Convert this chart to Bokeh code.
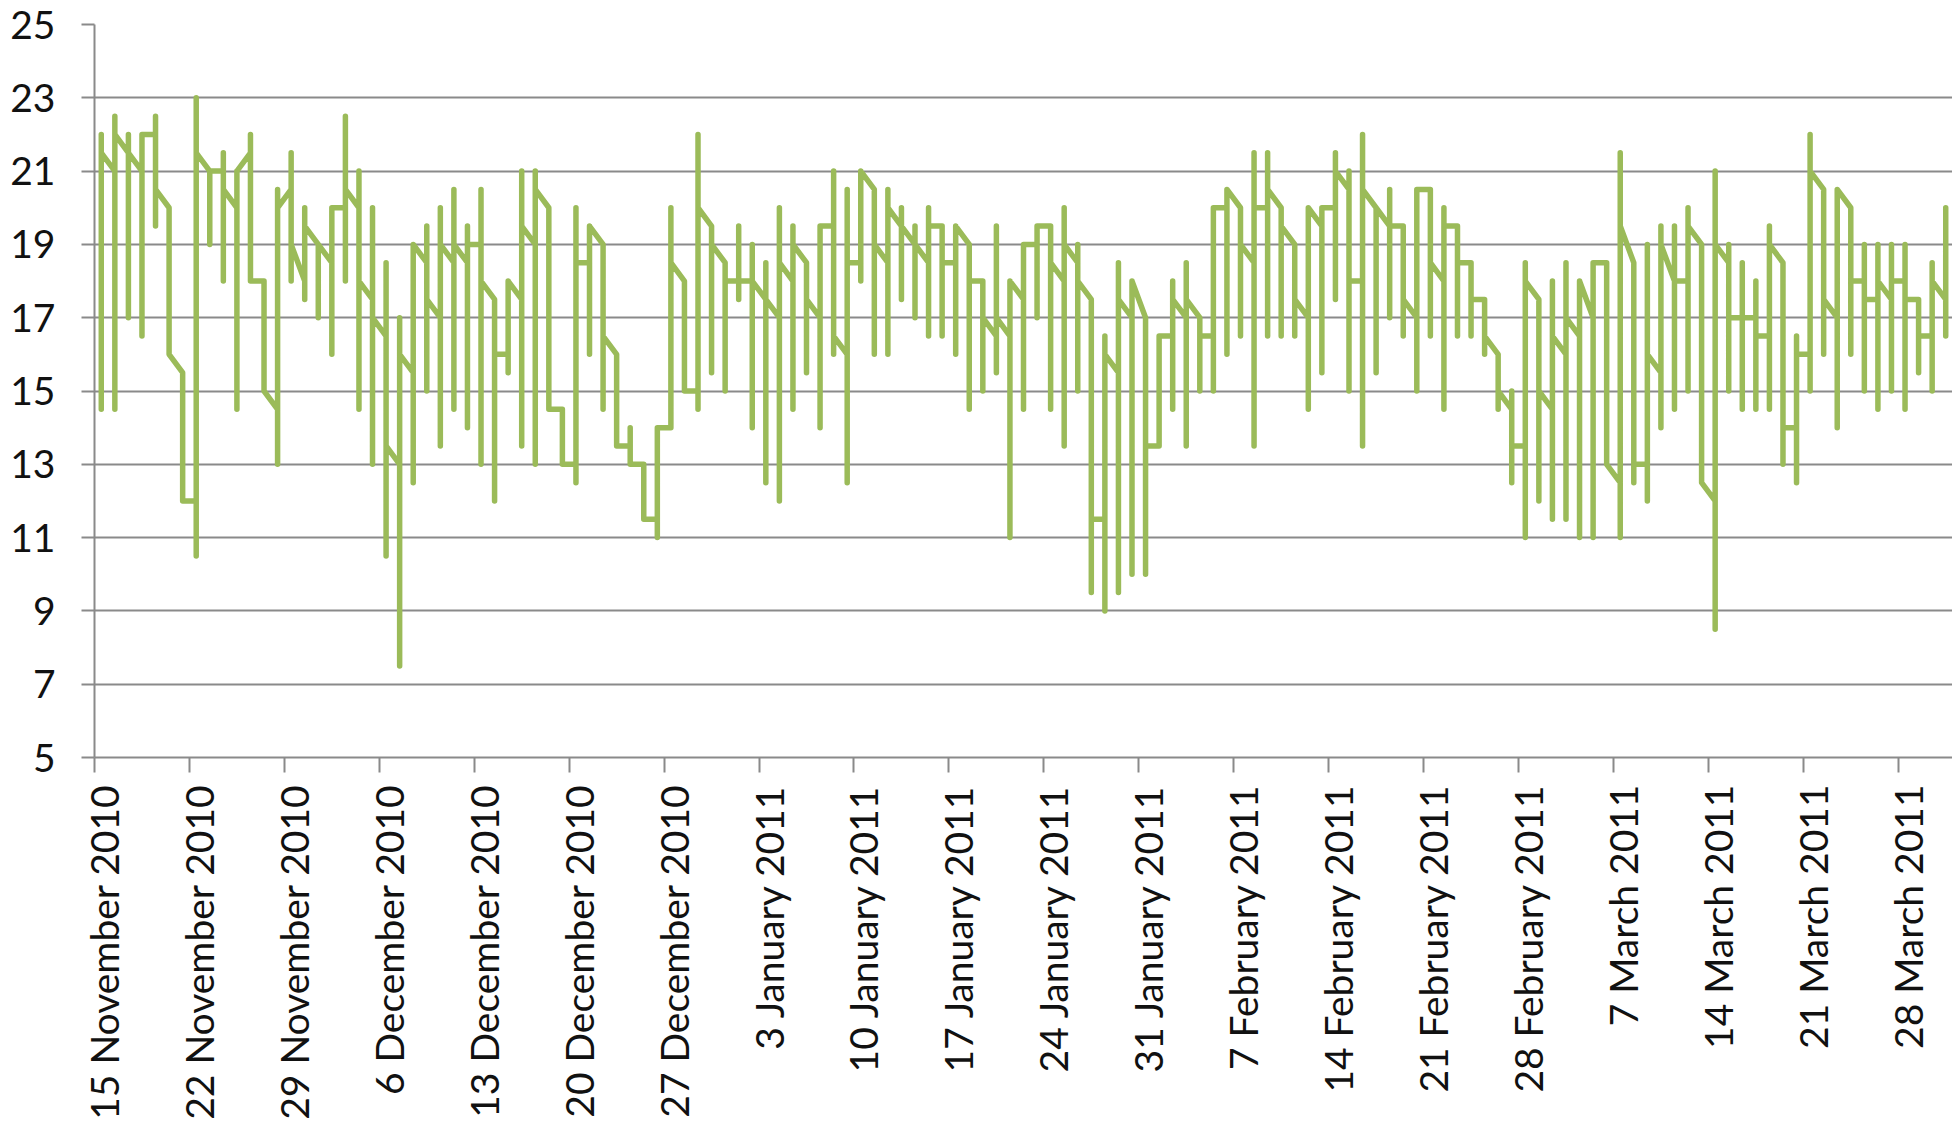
import numpy as np
import pandas as pd
from bokeh.plotting import figure
from bokeh.models import Range1d, FixedTicker
from bokeh.embed import file_html
from bokeh.resources import INLINE

# daily readings, 15 Nov 2010 - 31 Mar 2011 (first, highest, lowest, last)
day_open = [22, 21, 21.5, 21, 22, 20, 15.5, 12, 21, 21, 20, 21.5, 18, 14.5, 20.5, 18, 19, 18.5, 20, 20,
            17.5, 16.5, 13, 15.5, 18.5, 17, 18.5, 18.5, 19, 17.5, 16, 17.5, 19, 20, 14.5, 13, 18.5, 19, 16, 13.5,
            13, 11.5, 14, 18, 15, 19.5, 18.5, 18, 18, 17.5, 17, 18, 18.5, 17, 19.5, 16, 18.5, 20.5, 18.5, 19.5,
            19, 18.5, 19.5, 18.5, 19, 18, 16.5, 16.5, 17.5, 19, 19.5, 18, 18.5, 17.5, 11.5, 15.5, 17, 17, 13.5, 16.5,
            17, 17, 16.5, 20, 20, 18.5, 20, 20, 19, 17, 19.5, 20, 20.5, 18, 20, 19.5, 19.5, 17, 20.5, 18,
            19.5, 18.5, 17.5, 16, 14.5, 13.5, 17.5, 14.5, 16, 16.5, 17, 18.5, 12.5, 18.5, 13, 15.5, 18, 18, 19, 12,
            18.5, 17, 17, 16.5, 18.5, 14, 16, 20.5, 17, 20, 18, 17.5, 17.5, 18, 17.5, 16.5, 17.5]
day_high = [22, 22.5, 22, 22, 22.5, 20, 15.5, 23, 21, 21.5, 21, 22, 18, 20.5, 21.5, 20, 19, 20, 22.5, 21,
            20, 18.5, 17, 19, 19.5, 20, 20.5, 19.5, 20.5, 17.5, 18, 21, 21, 20, 14.5, 20, 19.5, 19, 16, 14,
            13, 14, 20, 18, 22, 19.5, 18.5, 19.5, 19, 18.5, 20, 19.5, 18.5, 19.5, 21, 20.5, 21, 20.5, 20.5, 20,
            19.5, 20, 19.5, 19.5, 19, 18, 19.5, 18, 19, 19.5, 19.5, 20, 19, 17.5, 16.5, 18.5, 18, 17, 16.5, 18,
            18.5, 17, 20, 20.5, 20, 21.5, 21.5, 20, 19, 20, 20, 21.5, 21, 22, 20, 20.5, 19.5, 20.5, 20.5, 20,
            19.5, 18.5, 17.5, 16, 15, 18.5, 17.5, 18, 18.5, 18, 18.5, 18.5, 21.5, 18.5, 19, 19.5, 19.5, 20, 19, 21,
            19, 18.5, 18, 19.5, 18.5, 16.5, 22, 20.5, 20.5, 20, 19, 19, 19, 19, 17.5, 18.5, 20]
day_low = [14.5, 14.5, 17, 16.5, 19.5, 16, 12, 10.5, 19, 18, 14.5, 18, 15, 13, 18, 17.5, 17, 16, 18, 14.5,
           13, 10.5, 7.5, 12.5, 15, 13.5, 14.5, 14, 13, 12, 15.5, 13.5, 13, 14.5, 13, 12.5, 16, 14.5, 13.5, 13,
           11.5, 11, 14, 15, 14.5, 15.5, 15, 17.5, 14, 12.5, 12, 14.5, 15.5, 14, 16, 12.5, 18, 16, 16, 17.5,
           17, 16.5, 16.5, 16, 14.5, 15, 15.5, 11, 14.5, 17, 14.5, 13.5, 15, 9.5, 9, 9.5, 10, 10, 13.5, 14.5,
           13.5, 15, 15, 16, 16.5, 13.5, 16.5, 16.5, 16.5, 14.5, 15.5, 17.5, 15, 13.5, 15.5, 17, 16.5, 15, 16.5, 14.5,
           16.5, 16.5, 16, 14.5, 12.5, 11, 12, 11.5, 11.5, 11, 11, 13, 11, 12.5, 12, 14, 14.5, 15, 12.5, 8.5,
           15, 14.5, 14.5, 14.5, 13, 12.5, 15, 16, 14, 16, 15, 14.5, 15, 14.5, 15.5, 15, 16.5]
day_close = [21.5, 22, 21.5, 22, 20.5, 16, 12, 21.5, 21, 20.5, 21, 18, 15, 20, 19, 19.5, 19, 20, 20.5, 18,
             17, 13.5, 16, 19, 17.5, 19, 19, 19, 18, 16, 18, 19.5, 20.5, 14.5, 13, 18.5, 19.5, 16.5, 13.5, 13,
             11.5, 14, 18.5, 15, 20, 19, 18, 18, 18, 17.5, 18.5, 19, 17.5, 19.5, 16.5, 18.5, 21, 19, 20, 19.5,
             19, 19.5, 18.5, 19.5, 18, 17, 17, 18, 19, 19.5, 18.5, 19, 18, 11.5, 16, 17.5, 18, 13.5, 16.5, 17.5,
             17.5, 16.5, 20, 20.5, 19, 20, 20.5, 19.5, 17.5, 20, 20, 21, 18, 20.5, 20, 19.5, 17.5, 20.5, 18.5, 19.5,
             18.5, 17.5, 16.5, 15, 13.5, 18, 15, 16.5, 17, 18, 18.5, 13, 19.5, 13, 16, 19, 18, 19.5, 12.5, 19,
             17, 17, 16.5, 19, 14, 16, 21, 17.5, 20.5, 18, 17.5, 18, 18, 17.5, 16.5, 18, 20]

tick_days = [0, 7, 14, 21, 28, 35, 42, 49, 56, 63, 70, 77, 84, 91, 98, 105, 112, 119, 126, 133]
tick_labels = ["15 November 2010", "22 November 2010", "29 November 2010", "6 December 2010",
               "13 December 2010", "20 December 2010", "27 December 2010", "3 January 2011",
               "10 January 2011", "17 January 2011", "24 January 2011", "31 January 2011",
               "7 February 2011", "14 February 2011", "21 February 2011", "28 February 2011",
               "7 March 2011", "14 March 2011", "21 March 2011", "28 March 2011"]
y_ticks = [5, 7, 9, 11, 13, 15, 17, 19, 21, 23, 25]

dates = pd.date_range("2010-11-15", periods=len(day_open), freq="D")
xday = (dates - dates[0]).days.to_numpy() + 0.5

xs = np.repeat(xday, 4)
ys = np.column_stack([day_open, day_high, day_low, day_close]).ravel()

FONT = "Lato"
FSIZE = "39px"
GRID = "#8a8a8a"
TXT = "#111111"
LABEL_SHIFT = 0.7  # labels sit slightly right of their tick, as in the original

p = figure(width=1952, height=1124, output_backend="svg", toolbar_location=None,
           x_range=Range1d(0, len(day_open)), y_range=Range1d(5, 25),
           min_border_left=94, min_border_top=24, min_border_right=0, min_border_bottom=367)
p.outline_line_color = None
p.background_fill_color = "white"
p.border_fill_color = "white"

p.line(xs, ys, line_color="#9BBB59", line_width=5.5, line_join="round", line_cap="round")

p.xgrid.visible = False
p.ygrid.grid_line_color = GRID
p.ygrid.grid_line_width = 2
p.ygrid.ticker = FixedTicker(ticks=y_ticks)

ya = p.yaxis[0]
ya.ticker = FixedTicker(ticks=y_ticks)
ya.axis_line_color = GRID
ya.axis_line_width = 2
ya.major_tick_line_color = GRID
ya.major_tick_line_width = 2
ya.major_tick_out = 13
ya.major_tick_in = 0
ya.minor_tick_line_color = None
ya.major_label_text_font = FONT
ya.major_label_text_font_size = FSIZE
ya.major_label_text_color = TXT
ya.major_label_standoff = 26

# weekly tick marks are drawn as minor ticks; the date labels sit on (invisible) major ticks
label_pos = [t + LABEL_SHIFT for t in tick_days]
xa = p.xaxis[0]
xa.ticker = FixedTicker(ticks=label_pos, minor_ticks=tick_days)
xa.major_label_overrides = {t: lab for t, lab in zip(label_pos, tick_labels)}
xa.major_label_orientation = np.pi / 2
xa.axis_line_color = GRID
xa.axis_line_width = 2
xa.major_tick_line_color = None
xa.major_tick_out = 15
xa.major_tick_in = 0
xa.minor_tick_line_color = GRID
xa.minor_tick_line_width = 2
xa.minor_tick_out = 15
xa.minor_tick_in = 0
xa.major_label_standoff = 12
xa.major_label_text_font = FONT
xa.major_label_text_font_size = FSIZE
xa.major_label_text_color = TXT

open("out.html", "w").write(file_html(p, INLINE))
